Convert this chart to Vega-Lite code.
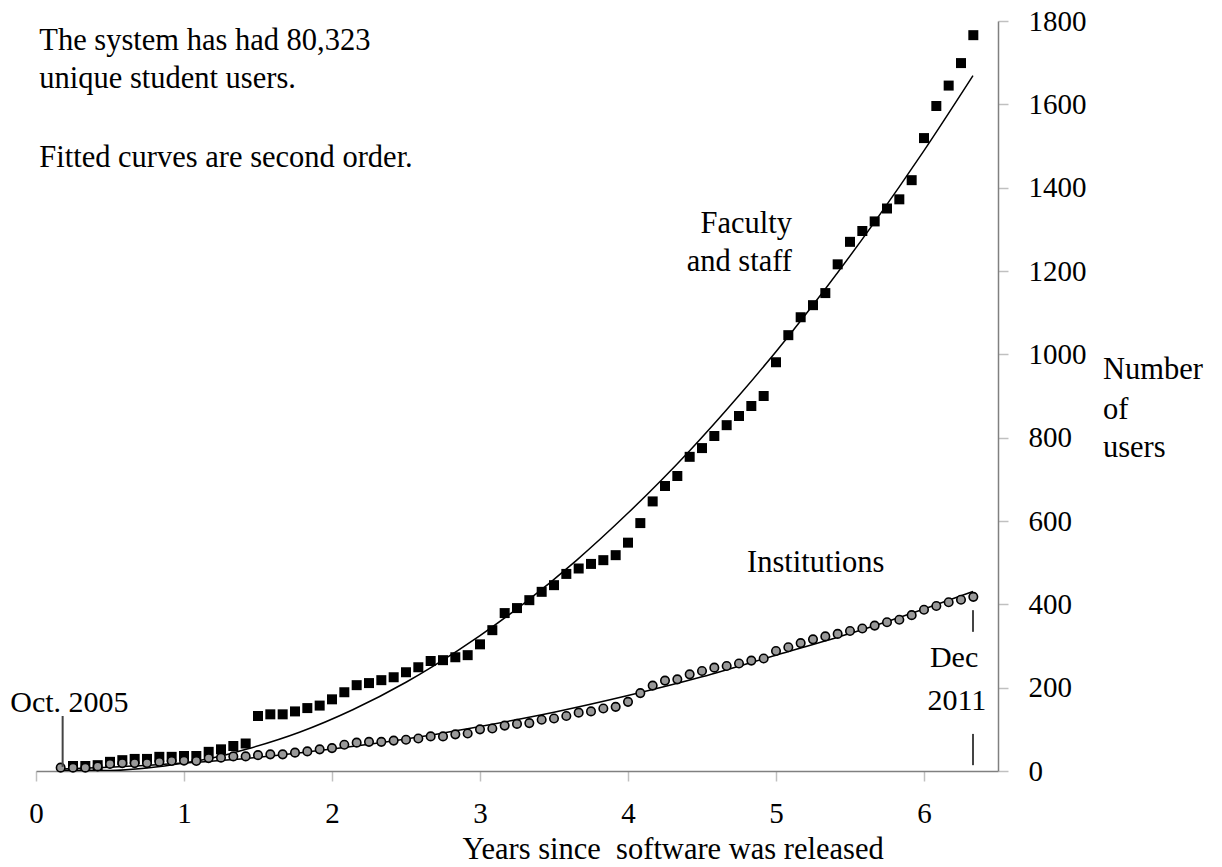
{
  "$schema": "https://vega.github.io/schema/vega-lite/v6.json",
  "width": 962,
  "height": 750,
  "autosize": {"type": "none"},
  "padding": {"left": 36, "top": 21, "right": 224, "bottom": 96},
  "background": "white",
  "config": {"view": {"stroke": null}, "font": "Liberation Serif"},
  "datasets": {
    "users": [
      {"series": "Institutions", "x": 0.1667, "y": 8}, {"series": "Institutions", "x": 0.25, "y": 8}, {"series": "Institutions", "x": 0.3333, "y": 8}, {"series": "Institutions", "x": 0.4167, "y": 11}, {"series": "Institutions", "x": 0.5, "y": 17},
      {"series": "Institutions", "x": 0.5833, "y": 19}, {"series": "Institutions", "x": 0.6667, "y": 19}, {"series": "Institutions", "x": 0.75, "y": 19}, {"series": "Institutions", "x": 0.8333, "y": 22}, {"series": "Institutions", "x": 0.9167, "y": 24},
      {"series": "Institutions", "x": 1.0, "y": 25}, {"series": "Institutions", "x": 1.0833, "y": 24}, {"series": "Institutions", "x": 1.1667, "y": 31}, {"series": "Institutions", "x": 1.25, "y": 32}, {"series": "Institutions", "x": 1.3333, "y": 35},
      {"series": "Institutions", "x": 1.4167, "y": 35}, {"series": "Institutions", "x": 1.5, "y": 38}, {"series": "Institutions", "x": 1.5833, "y": 40}, {"series": "Institutions", "x": 1.6667, "y": 40}, {"series": "Institutions", "x": 1.75, "y": 44},
      {"series": "Institutions", "x": 1.8333, "y": 47}, {"series": "Institutions", "x": 1.9167, "y": 52}, {"series": "Institutions", "x": 2.0, "y": 55}, {"series": "Institutions", "x": 2.0833, "y": 63}, {"series": "Institutions", "x": 2.1667, "y": 68},
      {"series": "Institutions", "x": 2.25, "y": 70}, {"series": "Institutions", "x": 2.3333, "y": 70}, {"series": "Institutions", "x": 2.4167, "y": 73}, {"series": "Institutions", "x": 2.5, "y": 75}, {"series": "Institutions", "x": 2.5833, "y": 78},
      {"series": "Institutions", "x": 2.6667, "y": 83}, {"series": "Institutions", "x": 2.75, "y": 83}, {"series": "Institutions", "x": 2.8333, "y": 88}, {"series": "Institutions", "x": 2.9167, "y": 90}, {"series": "Institutions", "x": 3.0, "y": 100},
      {"series": "Institutions", "x": 3.0833, "y": 102}, {"series": "Institutions", "x": 3.1667, "y": 109}, {"series": "Institutions", "x": 3.25, "y": 113}, {"series": "Institutions", "x": 3.3333, "y": 115}, {"series": "Institutions", "x": 3.4167, "y": 123},
      {"series": "Institutions", "x": 3.5, "y": 126}, {"series": "Institutions", "x": 3.5833, "y": 132}, {"series": "Institutions", "x": 3.6667, "y": 140}, {"series": "Institutions", "x": 3.75, "y": 143}, {"series": "Institutions", "x": 3.8333, "y": 150},
      {"series": "Institutions", "x": 3.9167, "y": 154}, {"series": "Institutions", "x": 4.0, "y": 166}, {"series": "Institutions", "x": 4.0833, "y": 187}, {"series": "Institutions", "x": 4.1667, "y": 205}, {"series": "Institutions", "x": 4.25, "y": 217},
      {"series": "Institutions", "x": 4.3333, "y": 220}, {"series": "Institutions", "x": 4.4167, "y": 232}, {"series": "Institutions", "x": 4.5, "y": 240}, {"series": "Institutions", "x": 4.5833, "y": 248}, {"series": "Institutions", "x": 4.6667, "y": 252},
      {"series": "Institutions", "x": 4.75, "y": 258}, {"series": "Institutions", "x": 4.8333, "y": 265}, {"series": "Institutions", "x": 4.9167, "y": 270}, {"series": "Institutions", "x": 5.0, "y": 288}, {"series": "Institutions", "x": 5.0833, "y": 297},
      {"series": "Institutions", "x": 5.1667, "y": 307}, {"series": "Institutions", "x": 5.25, "y": 316}, {"series": "Institutions", "x": 5.3333, "y": 323}, {"series": "Institutions", "x": 5.4167, "y": 329}, {"series": "Institutions", "x": 5.5, "y": 336},
      {"series": "Institutions", "x": 5.5833, "y": 342}, {"series": "Institutions", "x": 5.6667, "y": 349}, {"series": "Institutions", "x": 5.75, "y": 357}, {"series": "Institutions", "x": 5.8333, "y": 363}, {"series": "Institutions", "x": 5.9167, "y": 374},
      {"series": "Institutions", "x": 6.0, "y": 387}, {"series": "Institutions", "x": 6.0833, "y": 396}, {"series": "Institutions", "x": 6.1667, "y": 405}, {"series": "Institutions", "x": 6.25, "y": 411}, {"series": "Institutions", "x": 6.3333, "y": 418},
      {"series": "Faculty", "x": 0.25, "y": 12}, {"series": "Faculty", "x": 0.3333, "y": 12}, {"series": "Faculty", "x": 0.4167, "y": 14}, {"series": "Faculty", "x": 0.5, "y": 22},
      {"series": "Faculty", "x": 0.5833, "y": 26}, {"series": "Faculty", "x": 0.6667, "y": 29}, {"series": "Faculty", "x": 0.75, "y": 29}, {"series": "Faculty", "x": 0.8333, "y": 34}, {"series": "Faculty", "x": 0.9167, "y": 34},
      {"series": "Faculty", "x": 1.0, "y": 36}, {"series": "Faculty", "x": 1.0833, "y": 36}, {"series": "Faculty", "x": 1.1667, "y": 46}, {"series": "Faculty", "x": 1.25, "y": 52}, {"series": "Faculty", "x": 1.3333, "y": 60},
      {"series": "Faculty", "x": 1.4167, "y": 66}, {"series": "Faculty", "x": 1.5, "y": 132}, {"series": "Faculty", "x": 1.5833, "y": 136}, {"series": "Faculty", "x": 1.6667, "y": 136}, {"series": "Faculty", "x": 1.75, "y": 143},
      {"series": "Faculty", "x": 1.8333, "y": 151}, {"series": "Faculty", "x": 1.9167, "y": 157}, {"series": "Faculty", "x": 2.0, "y": 172}, {"series": "Faculty", "x": 2.0833, "y": 189}, {"series": "Faculty", "x": 2.1667, "y": 206},
      {"series": "Faculty", "x": 2.25, "y": 211}, {"series": "Faculty", "x": 2.3333, "y": 218}, {"series": "Faculty", "x": 2.4167, "y": 225}, {"series": "Faculty", "x": 2.5, "y": 237}, {"series": "Faculty", "x": 2.5833, "y": 249},
      {"series": "Faculty", "x": 2.6667, "y": 264}, {"series": "Faculty", "x": 2.75, "y": 266}, {"series": "Faculty", "x": 2.8333, "y": 273}, {"series": "Faculty", "x": 2.9167, "y": 278}, {"series": "Faculty", "x": 3.0, "y": 304},
      {"series": "Faculty", "x": 3.0833, "y": 338}, {"series": "Faculty", "x": 3.1667, "y": 379}, {"series": "Faculty", "x": 3.25, "y": 391}, {"series": "Faculty", "x": 3.3333, "y": 410}, {"series": "Faculty", "x": 3.4167, "y": 430},
      {"series": "Faculty", "x": 3.5, "y": 446}, {"series": "Faculty", "x": 3.5833, "y": 473}, {"series": "Faculty", "x": 3.6667, "y": 486}, {"series": "Faculty", "x": 3.75, "y": 497}, {"series": "Faculty", "x": 3.8333, "y": 506},
      {"series": "Faculty", "x": 3.9167, "y": 518}, {"series": "Faculty", "x": 4.0, "y": 548}, {"series": "Faculty", "x": 4.0833, "y": 595}, {"series": "Faculty", "x": 4.1667, "y": 647}, {"series": "Faculty", "x": 4.25, "y": 684},
      {"series": "Faculty", "x": 4.3333, "y": 708}, {"series": "Faculty", "x": 4.4167, "y": 754}, {"series": "Faculty", "x": 4.5, "y": 775}, {"series": "Faculty", "x": 4.5833, "y": 804}, {"series": "Faculty", "x": 4.6667, "y": 830},
      {"series": "Faculty", "x": 4.75, "y": 852}, {"series": "Faculty", "x": 4.8333, "y": 876}, {"series": "Faculty", "x": 4.9167, "y": 900}, {"series": "Faculty", "x": 5.0, "y": 981}, {"series": "Faculty", "x": 5.0833, "y": 1046},
      {"series": "Faculty", "x": 5.1667, "y": 1089}, {"series": "Faculty", "x": 5.25, "y": 1118}, {"series": "Faculty", "x": 5.3333, "y": 1147}, {"series": "Faculty", "x": 5.4167, "y": 1216}, {"series": "Faculty", "x": 5.5, "y": 1270},
      {"series": "Faculty", "x": 5.5833, "y": 1296}, {"series": "Faculty", "x": 5.6667, "y": 1319}, {"series": "Faculty", "x": 5.75, "y": 1350}, {"series": "Faculty", "x": 5.8333, "y": 1372}, {"series": "Faculty", "x": 5.9167, "y": 1418},
      {"series": "Faculty", "x": 6.0, "y": 1519}, {"series": "Faculty", "x": 6.0833, "y": 1596}, {"series": "Faculty", "x": 6.1667, "y": 1645}, {"series": "Faculty", "x": 6.25, "y": 1699}, {"series": "Faculty", "x": 6.3333, "y": 1766}
    ],
    "fitted": [
      {"series": "Faculty", "x": 0.1667, "y": 2}, {"series": "Faculty", "x": 0.5, "y": 1}, {"series": "Faculty", "x": 0.75, "y": 7},
      {"series": "Faculty", "x": 1.0, "y": 19}, {"series": "Faculty", "x": 1.25, "y": 36}, {"series": "Faculty", "x": 1.42, "y": 52},
      {"series": "Faculty", "x": 1.78, "y": 93}, {"series": "Faculty", "x": 2.14, "y": 147}, {"series": "Faculty", "x": 2.5, "y": 213},
      {"series": "Faculty", "x": 2.69, "y": 253}, {"series": "Faculty", "x": 3.0, "y": 325}, {"series": "Faculty", "x": 3.3, "y": 403},
      {"series": "Faculty", "x": 3.65, "y": 505}, {"series": "Faculty", "x": 4.0, "y": 619}, {"series": "Faculty", "x": 4.415, "y": 768},
      {"series": "Faculty", "x": 4.75, "y": 901}, {"series": "Faculty", "x": 5.083, "y": 1043}, {"series": "Faculty", "x": 5.329, "y": 1155},
      {"series": "Faculty", "x": 5.667, "y": 1318}, {"series": "Faculty", "x": 5.835, "y": 1403}, {"series": "Faculty", "x": 6.0, "y": 1489},
      {"series": "Faculty", "x": 6.331, "y": 1669},
      {"series": "Institutions", "x": 0.1667, "y": 5}, {"series": "Institutions", "x": 0.5, "y": 9}, {"series": "Institutions", "x": 1.0, "y": 19},
      {"series": "Institutions", "x": 1.5, "y": 33}, {"series": "Institutions", "x": 2.0, "y": 53}, {"series": "Institutions", "x": 2.5, "y": 77},
      {"series": "Institutions", "x": 3.0, "y": 107}, {"series": "Institutions", "x": 3.5, "y": 141}, {"series": "Institutions", "x": 4.0, "y": 181},
      {"series": "Institutions", "x": 4.5, "y": 226}, {"series": "Institutions", "x": 5.0, "y": 278}, {"series": "Institutions", "x": 5.5, "y": 330},
      {"series": "Institutions", "x": 6.0, "y": 389}, {"series": "Institutions", "x": 6.331, "y": 431}
    ],
    "markers": [
      {"x": 0.18, "y": 10, "y2": 132},
      {"x": 6.331, "y": 334, "y2": 386},
      {"x": 6.331, "y": 14, "y2": 89}
    ],
    "notesLeft": [
      {"x": 0.022, "y": 1730, "label": "The system has had 80,323"},
      {"x": 0.022, "y": 1639, "label": "unique student users."},
      {"x": 0.022, "y": 1450, "label": "Fitted curves are second order."},
      {"x": 4.804, "y": 478, "label": "Institutions"},
      {"x": 7.209, "y": 941, "label": "Number"},
      {"x": 7.209, "y": 845, "label": "of"},
      {"x": 7.209, "y": 754, "label": "users"}
    ],
    "notesRight": [
      {"x": 5.108, "y": 1291, "label": "Faculty"},
      {"x": 5.108, "y": 1200, "label": "and staff"}
    ],
    "notesCenter": [
      {"x": 0.226, "y": 142, "label": "Oct. 2005"},
      {"x": 6.203, "y": 250, "label": "Dec"},
      {"x": 6.222, "y": 146, "label": "2011"}
    ]
  },
  "encoding": {
    "x": {
      "field": "x", "type": "quantitative",
      "scale": {"domain": [0, 6.5], "nice": false, "zero": false},
      "axis": {
        "title": "Years since\u00a0 software was released",
        "values": [0, 1, 2, 3, 4, 5, 6],
        "grid": false,
        "domainColor": "#808080", "domainWidth": 1.5,
        "tickColor": "#c0c0c0", "tickWidth": 1.5, "tickSize": 10,
        "labelFont": "Liberation Serif", "labelFontSize": 29, "labelColor": "#000000",
        "labelBaseline": "alphabetic", "labelPadding": 41, "labelFlush": false, "labelOverlap": false,
        "titleFont": "Liberation Serif", "titleFontSize": 30.5, "titleFontWeight": "normal", "titleColor": "#000000",
        "titleAlign": "left", "titleAnchor": "start", "titleX": 426, "titleY": 87, "titleBaseline": "alphabetic"
      }
    },
    "y": {
      "field": "y", "type": "quantitative",
      "scale": {"domain": [0, 1800], "nice": false},
      "axis": {
        "orient": "right",
        "title": null,
        "format": "d",
        "values": [0, 200, 400, 600, 800, 1000, 1200, 1400, 1600, 1800],
        "grid": false,
        "domainColor": "#808080", "domainWidth": 1.5,
        "tickColor": "#c0c0c0", "tickWidth": 1.5, "tickSize": 10,
        "labelFont": "Liberation Serif", "labelFontSize": 29, "labelColor": "#000000",
        "labelBaseline": "middle", "labelAlign": "left", "labelPadding": 20, "labelFlush": false, "labelOverlap": false
      }
    }
  },
  "layer": [
    {
      "data": {"name": "fitted"},
      "mark": {"type": "line", "color": "#000000", "strokeWidth": 1.5, "clip": true, "interpolate": "monotone"},
      "encoding": {"detail": {"field": "series"}, "order": {"field": "x", "type": "quantitative"}}
    },
    {
      "data": {"name": "users"},
      "transform": [{"filter": "datum.series === 'Faculty'"}],
      "mark": {"type": "point", "shape": "square", "filled": true, "color": "#000000", "size": 100, "opacity": 1}
    },
    {
      "data": {"name": "users"},
      "transform": [{"filter": "datum.series === 'Institutions'"}],
      "mark": {"type": "point", "shape": "circle", "filled": true, "fill": "#999999", "stroke": "#000000", "strokeWidth": 1.6, "size": 72, "opacity": 1}
    },
    {
      "data": {"name": "markers"},
      "mark": {"type": "rule", "color": "#444444", "strokeWidth": 2},
      "encoding": {"y2": {"field": "y2"}}
    },
    {
      "data": {"name": "notesLeft"},
      "mark": {"type": "text", "align": "left", "baseline": "alphabetic", "font": "Liberation Serif", "fontSize": 30.5, "color": "#000000"},
      "encoding": {"text": {"field": "label"}}
    },
    {
      "data": {"name": "notesRight"},
      "mark": {"type": "text", "align": "right", "baseline": "alphabetic", "font": "Liberation Serif", "fontSize": 30.5, "color": "#000000"},
      "encoding": {"text": {"field": "label"}}
    },
    {
      "data": {"name": "notesCenter"},
      "mark": {"type": "text", "align": "center", "baseline": "alphabetic", "font": "Liberation Serif", "fontSize": 30, "color": "#000000"},
      "encoding": {"text": {"field": "label"}}
    }
  ]
}
